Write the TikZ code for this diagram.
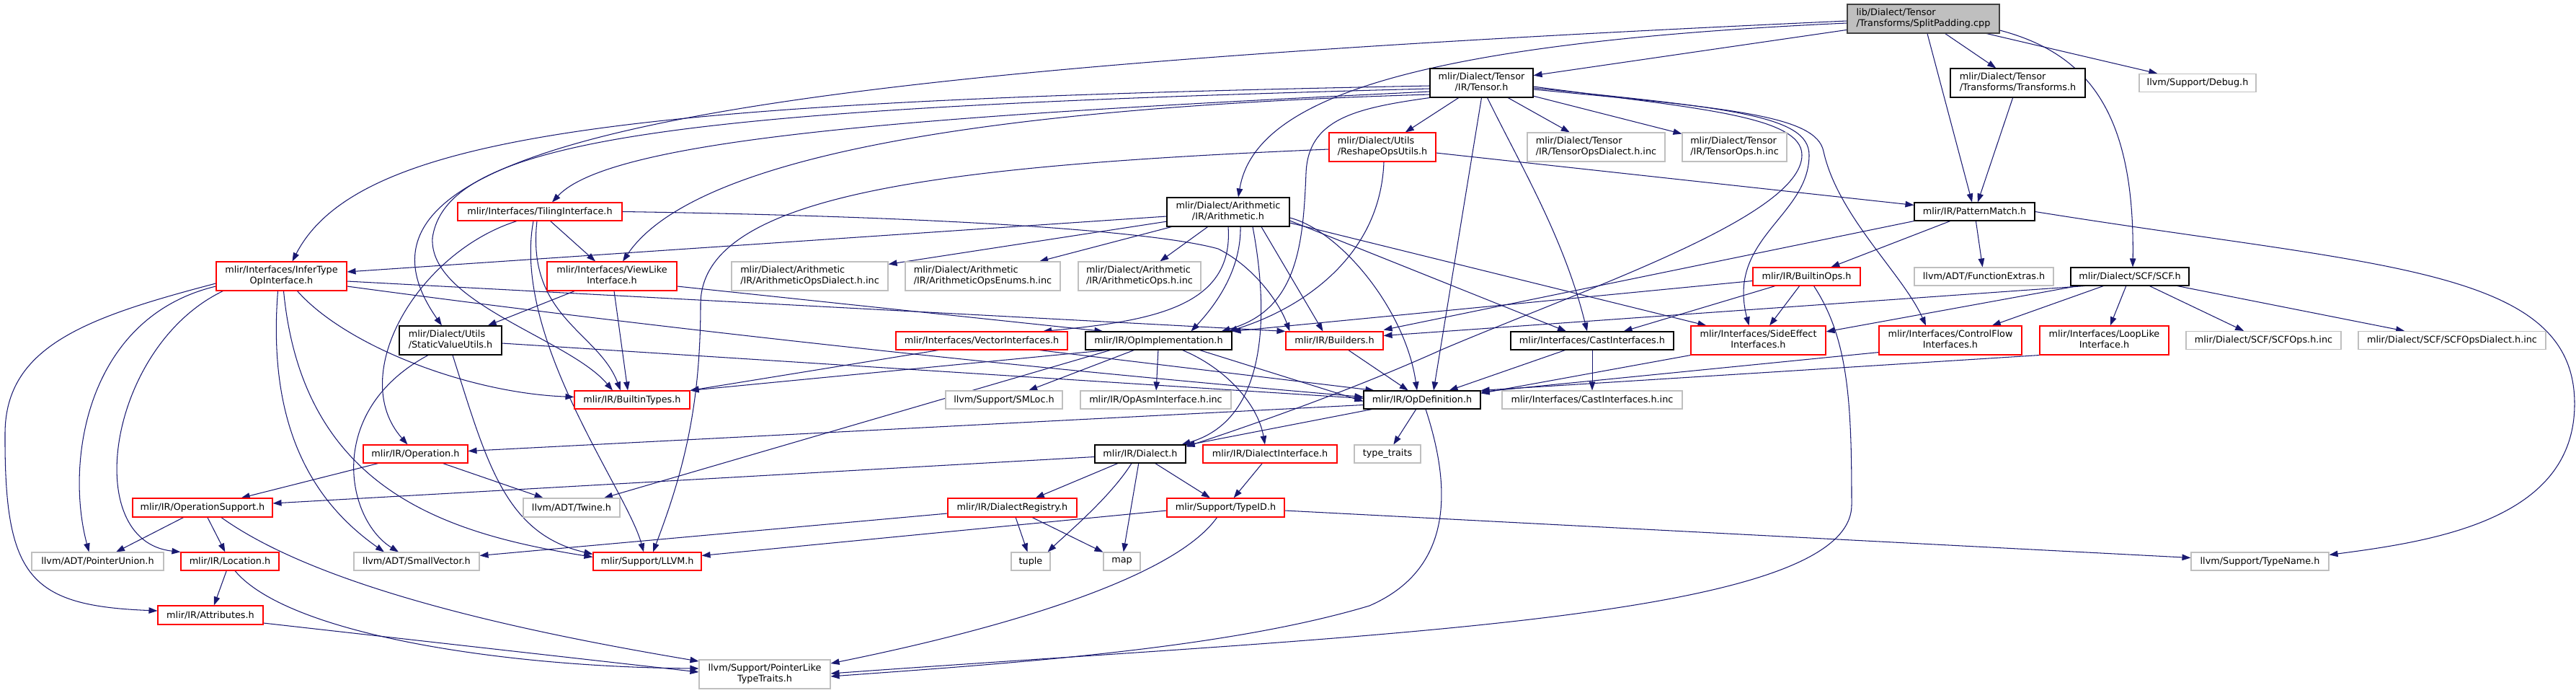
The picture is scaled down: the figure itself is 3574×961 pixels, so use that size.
\documentclass[tikz,border=0pt]{standalone}
\usepackage{fontspec}
\setmainfont{DejaVu Sans}
\usepackage{tikz}
\usetikzlibrary{arrows.meta,backgrounds}
\definecolor{EdgeC}{HTML}{191970}
\definecolor{TruncC}{HTML}{FF0000}
\definecolor{ExtC}{HTML}{BFBFBF}
\definecolor{SrcFill}{HTML}{BFBFBF}
\definecolor{SrcLine}{HTML}{404040}
\newcommand{\twoln}[2]{\begin{tabular}{@{}l@{}}#1\\\multicolumn{1}{@{}c@{}}{#2}\end{tabular}}

\begin{document}
\begin{tikzpicture}[x=1pt,y=-1pt,font=\fontsize{12.8}{15}\selectfont,
  hdr/.style={rectangle,line width=1.1pt,inner sep=0pt,fill=white},
  wh/.style 2 args={minimum width=#1pt,minimum height=#2pt},
  doc/.style={hdr,draw=black},
  trunc/.style={hdr,draw=TruncC},
  ext/.style={hdr,draw=ExtC},
  srcfile/.style={hdr,draw=SrcLine,fill=SrcFill},
  inc/.style={draw=EdgeC,line width=1.05pt,-{Triangle[length=12pt,width=8.5pt]}}]
\useasboundingbox (0,0) rectangle (3574,961);

% ================= row 0/1: the source file and its direct includes =================
\node[srcfile,wh={211}{40}] (root) at (2668.5,26) {\twoln{lib/Dialect/Tensor}{/Transforms/SplitPadding.cpp}};
\node[doc,wh={143}{40}] (tensor) at (2055.5,115) {\twoln{mlir/Dialect/Tensor}{/IR/Tensor.h}};
\node[doc,wh={187}{40}] (transforms) at (2799.5,115) {\twoln{mlir/Dialect/Tensor}{/Transforms/Transforms.h}};
\node[ext,wh={162}{25}] (debug) at (3049,115) {llvm/Support/Debug.h};

% ================= row 2 =================
\node[trunc,wh={148}{40}] (reshape) at (1918,204) {\twoln{mlir/Dialect/Utils}{/ReshapeOpsUtils.h}};
\node[ext,wh={191}{40}] (tdinc) at (2214.5,204) {\twoln{mlir/Dialect/Tensor}{/IR/TensorOpsDialect.h.inc}};
\node[ext,wh={145}{40}] (toinc) at (2406.5,204) {\twoln{mlir/Dialect/Tensor}{/IR/TensorOps.h.inc}};

% ================= row 3 =================
\node[trunc,wh={228}{25}] (tiling) at (749,293.5) {mlir/Interfaces/TilingInterface.h};
\node[doc,wh={170}{40}] (arith) at (1704,294) {\twoln{mlir/Dialect/Arithmetic}{/IR/Arithmetic.h}};
\node[doc,wh={167}{25}] (pm) at (2739.5,293.5) {mlir/IR/PatternMatch.h};

% ================= row 4 =================
\node[trunc,wh={181}{40}] (infer) at (390.5,383) {\twoln{mlir/Interfaces/InferType}{OpInterface.h}};
\node[trunc,wh={180}{40}] (viewlike) at (849,383) {\twoln{mlir/Interfaces/ViewLike}{Interface.h}};
\node[ext,wh={217}{40}] (adinc) at (1123.5,383) {\twoln{mlir/Dialect/Arithmetic}{/IR/ArithmeticOpsDialect.h.inc}};
\node[ext,wh={215}{40}] (aeinc) at (1363.5,383) {\twoln{mlir/Dialect/Arithmetic}{/IR/ArithmeticOpsEnums.h.inc}};
\node[ext,wh={170}{40}] (aoinc) at (1581,383) {\twoln{mlir/Dialect/Arithmetic}{/IR/ArithmeticOps.h.inc}};
\node[trunc,wh={149}{25}] (builtinops) at (2506.5,383.5) {mlir/IR/BuiltinOps.h};
\node[ext,wh={193}{25}] (funcextras) at (2752.5,383.5) {llvm/ADT/FunctionExtras.h};
\node[doc,wh={164}{25}] (scf) at (2955,383.5) {mlir/Dialect/SCF/SCF.h};

% ================= row 5 =================
\node[doc,wh={142}{40}] (svu) at (625,472) {\twoln{mlir/Dialect/Utils}{/StaticValueUtils.h}};
\node[trunc,wh={238}{25}] (vector) at (1362,472.5) {mlir/Interfaces/VectorInterfaces.h};
\node[doc,wh={203}{25}] (opimpl) at (1607.5,472.5) {mlir/IR/OpImplementation.h};
\node[trunc,wh={135}{25}] (builders) at (1851.5,472.5) {mlir/IR/Builders.h};
\node[doc,wh={226}{25}] (cast) at (2209,472.5) {mlir/Interfaces/CastInterfaces.h};
\node[trunc,wh={187}{40}] (sideeffect) at (2439.5,472) {\twoln{mlir/Interfaces/SideEffect}{Interfaces.h}};
\node[trunc,wh={198}{40}] (cflow) at (2706,472) {\twoln{mlir/Interfaces/ControlFlow}{Interfaces.h}};
\node[trunc,wh={179}{40}] (looplike) at (2919.5,472) {\twoln{mlir/Interfaces/LoopLike}{Interface.h}};
\node[ext,wh={215}{25}] (scfops) at (3140.5,472) {mlir/Dialect/SCF/SCFOps.h.inc};
\node[ext,wh={260}{25}] (scfdialect) at (3402,472) {mlir/Dialect/SCF/SCFOpsDialect.h.inc};

% ================= row 6 =================
\node[trunc,wh={160}{25}] (builtintypes) at (877,554.5) {mlir/IR/BuiltinTypes.h};
\node[ext,wh={162}{25}] (smloc) at (1393,554.5) {llvm/Support/SMLoc.h};
\node[ext,wh={209}{25}] (opasminc) at (1603.5,554.5) {mlir/IR/OpAsmInterface.h.inc};
\node[doc,wh={162}{25}] (opdef) at (1973,554.5) {mlir/IR/OpDefinition.h};
\node[ext,wh={250}{25}] (castinc) at (2209,554.5) {mlir/Interfaces/CastInterfaces.h.inc};

% ================= row 7 =================
\node[trunc,wh={145}{25}] (operation) at (576.5,629.5) {mlir/IR/Operation.h};
\node[doc,wh={126}{25}] (dialect) at (1582,629.5) {mlir/IR/Dialect.h};
\node[trunc,wh={186}{25}] (dialectiface) at (1762,629.5) {mlir/IR/DialectInterface.h};
\node[ext,wh={92}{25}] (typetraits) at (1925,629.5) {type\_traits};

% ================= row 8 =================
\node[trunc,wh={194}{26}] (opsupport) at (281,704) {mlir/IR/OperationSupport.h};
\node[ext,wh={134}{26}] (twine) at (793,704) {llvm/ADT/Twine.h};
\node[trunc,wh={179}{26}] (registry) at (1404.5,704) {mlir/IR/DialectRegistry.h};
\node[trunc,wh={163}{26}] (typeid) at (1700.5,704) {mlir/Support/TypeID.h};

% ================= row 9 =================
\node[ext,wh={183}{25}] (pointerunion) at (135.5,778.5) {llvm/ADT/PointerUnion.h};
\node[trunc,wh={136}{25}] (location) at (319,778.5) {mlir/IR/Location.h};
\node[ext,wh={174}{25}] (smallvector) at (578,778.5) {llvm/ADT/SmallVector.h};
\node[trunc,wh={150}{25}] (llvm) at (898,778.5) {mlir/Support/LLVM.h};
\node[ext,wh={54}{25}] (tuple) at (1430,778.5) {tuple};
\node[ext,wh={51}{25}] (map) at (1556.5,778.5) {map};
\node[ext,wh={191}{25}] (typename) at (3135.5,778.5) {llvm/Support/TypeName.h};

% ================= row 10/11 =================
\node[trunc,wh={146}{26}] (attributes) at (292,853) {mlir/IR/Attributes.h};
\node[ext,wh={182}{40}] (ptrlike) at (1061,935) {\twoln{llvm/Support/PointerLike}{TypeTraits.h}};

\begin{scope}[on background layer]
% ---- short straight includes
\foreach \a/\b in {root/tensor,root/transforms,root/debug,root/pm,
    tensor/reshape,tensor/tdinc,tensor/toinc,transforms/pm,
    arith/adinc,arith/aeinc,arith/aoinc,
    scf/cflow,scf/looplike,scf/scfops,scf/scfdialect,
    pm/builtinops,pm/funcextras,reshape/pm,tiling/viewlike,viewlike/svu,
    builtinops/cast,builtinops/sideeffect,opimpl/smloc,opimpl/opasminc,
    builders/opdef,cast/opdef,cast/castinc,opdef/typetraits,
    operation/opsupport,operation/twine,
    dialect/registry,dialect/map,dialect/typeid,dialectiface/typeid,
    registry/tuple,registry/map,
    opsupport/pointerunion,opsupport/location,location/attributes}
  \draw[inc] (\a) -- (\b);

% ---- the source file
\draw[inc] ([yshift=-6pt]root.west) .. controls (1950,60) and (1740,140) .. ([xshift=14pt]arith.north);
\draw[inc] ([yshift=-3pt]root.west) .. controls (1000,100) and (430,190) .. ([xshift=-12pt]svu.north);
\draw[inc] ([yshift=-16pt]root.east) .. controls (2900,75) and (2962,160) .. ([xshift=4pt]scf.north);

% ---- Tensor.h
\draw[inc] ([yshift=-4pt]tensor.west) .. controls (900,140) and (500,180) .. ([xshift=15pt]infer.north);
\draw[inc] ([yshift=-8pt]tensor.west) .. controls (950,150) and (620,190) .. (600,330)
  .. controls (595,420) and (790,470) .. ([xshift=-27pt]builtintypes.north);
\draw[inc] ([yshift=-12pt]tensor.west) .. controls (1300,160) and (850,190) .. ([xshift=17pt]tiling.north);
\draw[inc] ([yshift=-16pt]tensor.west) .. controls (1350,150) and (960,220) .. ([xshift=15pt]viewlike.north);
\draw[inc] (tensor.south west) .. controls (1880,150) and (1815,165) .. (1812,240)
  .. controls (1808,340) and (1800,430) .. ([xshift=-15pt]opimpl.north east);
\draw[inc] (tensor.south) -- ([xshift=16pt]opdef.north);
\draw[inc] ([xshift=8pt]tensor.south) .. controls (2110,230) and (2170,330) .. ([xshift=-7pt]cast.north);
\draw[inc] ([yshift=-5pt]tensor.east) .. controls (2350,150) and (2500,160) .. (2500,215)
  .. controls (2500,300) and (2200,400) .. (2000,485)
  .. controls (1900,530) and (1780,575) .. ([yshift=-3pt]dialect.north east);
\draw[inc] ([yshift=-7pt]tensor.east) .. controls (2400,150) and (2510,160) .. (2510,215)
  .. controls (2510,300) and (2395,330) .. ([xshift=-13pt]sideeffect.north);
\draw[inc] ([yshift=-9pt]tensor.east) .. controls (2400,150) and (2520,160) .. (2530,210)
  .. controls (2550,300) and (2640,380) .. ([xshift=-34pt]cflow.north);

% ---- Arithmetic.h
\draw[inc] ([yshift=-6pt]arith.west) -- ([yshift=6pt]infer.east);
\draw[inc] (arith.south) .. controls (1712,425) and (1600,445) .. ([xshift=85pt]vector.north);
\draw[inc] ([xshift=17pt]arith.south) .. controls (1722,380) and (1680,430) .. ([xshift=45pt]opimpl.north);
\draw[inc] ([xshift=34pt]arith.south) .. controls (1758,420) and (1765,580) .. ([xshift=-6pt]dialect.north east);
\draw[inc] ([xshift=46pt]arith.south) -- ([xshift=-16pt]builders.north);
\draw[inc] ([yshift=-8pt]arith.east) .. controls (1860,320) and (1950,430) .. ([xshift=-7pt]opdef.north);
\draw[inc] ([yshift=-12pt]arith.east) -- ([xshift=-36pt]cast.north);
\draw[inc] ([yshift=-15pt]arith.east) -- ([xshift=22pt]sideeffect.north west);

% ---- SCF.h and PatternMatch.h
\draw[inc] ([xshift=20pt]scf.south west) -- ([yshift=7pt]builders.east);
\draw[inc] ([xshift=10pt]scf.south west) -- ([yshift=12pt]sideeffect.east);
\draw[inc] (pm.south west) -- ([yshift=15pt]builders.east);
\draw[inc] (pm.east) .. controls (3300,370) and (3572,370) .. (3572,560)
  .. controls (3572,720) and (3380,750) .. ([yshift=-4pt]typename.north east);

% ---- ReshapeOpsUtils.h
\draw[inc] ([yshift=-3pt]reshape.west) .. controls (1300,230) and (975,270) .. (972,420)
  .. controls (972,560) and (950,650) .. ([xshift=8pt]llvm.north);
\draw[inc] ([xshift=2pt]reshape.south) .. controls (1915,360) and (1800,430) .. ([xshift=-5pt]opimpl.north east);

% ---- TilingInterface.h
\draw[inc] (tiling.east) .. controls (1300,300) and (1600,320) .. (1690,345)
  .. controls (1740,370) and (1775,420) .. ([xshift=6pt]builders.north west);
\draw[inc] ([xshift=-32pt]tiling.south) .. controls (580,350) and (480,520) .. ([xshift=-11pt]operation.north);
\draw[inc] ([xshift=-4pt]tiling.south) .. controls (730,440) and (830,460) .. ([xshift=-16pt]builtintypes.north);
\draw[inc] ([xshift=-9pt]tiling.south) .. controls (710,470) and (870,680) .. ([xshift=-5pt]llvm.north);

% ---- ViewLikeInterface.h
\draw[inc] ([xshift=3pt]viewlike.south) -- ([xshift=-6pt]builtintypes.north);
\draw[inc] ([yshift=-14pt]viewlike.east) -- ([xshift=25pt]opimpl.north west);

% ---- InferTypeOpInterface.h
\draw[inc] ([yshift=-10pt]infer.west) .. controls (120,440) and (8,480) .. (7,600)
  .. controls (6,800) and (40,840) .. ([yshift=6pt]attributes.west);
\draw[inc] ([yshift=-14pt]infer.west) .. controls (120,440) and (90,640) .. ([xshift=-12pt]pointerunion.north);
\draw[inc] ([xshift=10pt]infer.south west) .. controls (150,480) and (110,750) .. (location.north west);
\draw[inc] ([xshift=-5pt]infer.south) .. controls (370,600) and (440,700) .. ([xshift=-45pt]smallvector.north);
\draw[inc] ([xshift=3pt]infer.south) .. controls (420,680) and (620,740) .. ([yshift=6pt]llvm.west);
\draw[inc] ([xshift=22pt]infer.south) .. controls (480,480) and (650,545) .. ([yshift=4pt]builtintypes.west);
\draw[inc] ([yshift=-7pt]infer.east) -- (builders.north west);
\draw[inc] ([yshift=-14pt]infer.east) .. controls (800,440) and (1300,500) .. ([yshift=4pt]opdef.west);

% ---- StaticValueUtils.h
\draw[inc] ([yshift=-4pt]svu.east) -- ([yshift=2pt]opdef.west);
\draw[inc] ([xshift=-31pt]svu.south) .. controls (450,570) and (480,720) .. ([xshift=-25pt]smallvector.north);
\draw[inc] ([xshift=3pt]svu.south) .. controls (675,640) and (700,740) .. ([yshift=10pt]llvm.west);

% ---- BuiltinOps.h, VectorInterfaces.h
\draw[inc] ([yshift=-6pt]builtinops.west) -- (opimpl.north east);
\draw[inc] ([xshift=10pt]builtinops.south) .. controls (2565,470) and (2569,560) .. (2569,700)
  .. controls (2569,860) and (1900,880) .. ([yshift=1pt]ptrlike.east);
\draw[inc] ([xshift=-60pt]vector.south) -- (builtintypes.north east);
\draw[inc] ([xshift=80pt]vector.south) -- ([xshift=15pt]opdef.north west);

% ---- OpImplementation.h
\draw[inc] ([xshift=30pt]opimpl.south west) -- (builtintypes.north east);
\draw[inc] ([xshift=33pt]opimpl.south) .. controls (1700,510) and (1745,560) .. ([xshift=-7pt]dialectiface.north);
\draw[inc] ([xshift=-45pt]opimpl.south east) -- ([yshift=-2pt]opdef.west);
\draw[inc] ([xshift=-67pt]opimpl.south) -- ([xshift=45pt]twine.north);

% ---- the interfaces into OpDefinition.h
\draw[inc] (sideeffect.south west) -- ([yshift=-4pt]opdef.north east);
\draw[inc] ([yshift=4pt]cflow.south west) -- ([yshift=-2pt]opdef.north east);
\draw[inc] (looplike.south west) -- (opdef.north east);

% ---- OpDefinition.h
\draw[inc] ([yshift=-7pt]opdef.west) -- ([yshift=4pt]operation.east);
\draw[inc] ([xshift=12pt]opdef.south west) -- ([yshift=-1pt]dialect.north east);
\draw[inc] ([xshift=5pt]opdef.south) .. controls (2015,680) and (2015,790) .. (1900,840)
  .. controls (1700,900) and (1400,920) .. ([yshift=-3pt]ptrlike.east);

% ---- Dialect.h, DialectRegistry.h, TypeID.h
\draw[inc] ([yshift=-4pt]dialect.west) -- ([yshift=6pt]opsupport.east);
\draw[inc] ([xshift=-12pt]dialect.south) .. controls (1540,690) and (1480,740) .. ([xshift=-4pt]tuple.north east);
\draw[inc] ([yshift=-8pt]registry.west) -- ([yshift=8pt]smallvector.east);
\draw[inc] ([yshift=-4pt]typeid.west) -- ([yshift=8pt]llvm.east);
\draw[inc] ([xshift=-12pt]typeid.south) .. controls (1630,800) and (1400,870) .. ([yshift=15pt]ptrlike.east);
\draw[inc] ([yshift=-4pt]typeid.east) -- ([yshift=5pt]typename.west);

% ---- OperationSupport.h, Location.h, Attributes.h
\draw[inc] ([xshift=26pt]opsupport.south) .. controls (450,820) and (750,880) .. ([yshift=18pt]ptrlike.west);
\draw[inc] ([xshift=7pt]location.south) .. controls (400,880) and (700,925) .. ([yshift=8pt]ptrlike.west);
\draw[inc] ([yshift=-11pt]attributes.east) -- ([yshift=3pt]ptrlike.west);
\end{scope}
\end{tikzpicture}
\end{document}
